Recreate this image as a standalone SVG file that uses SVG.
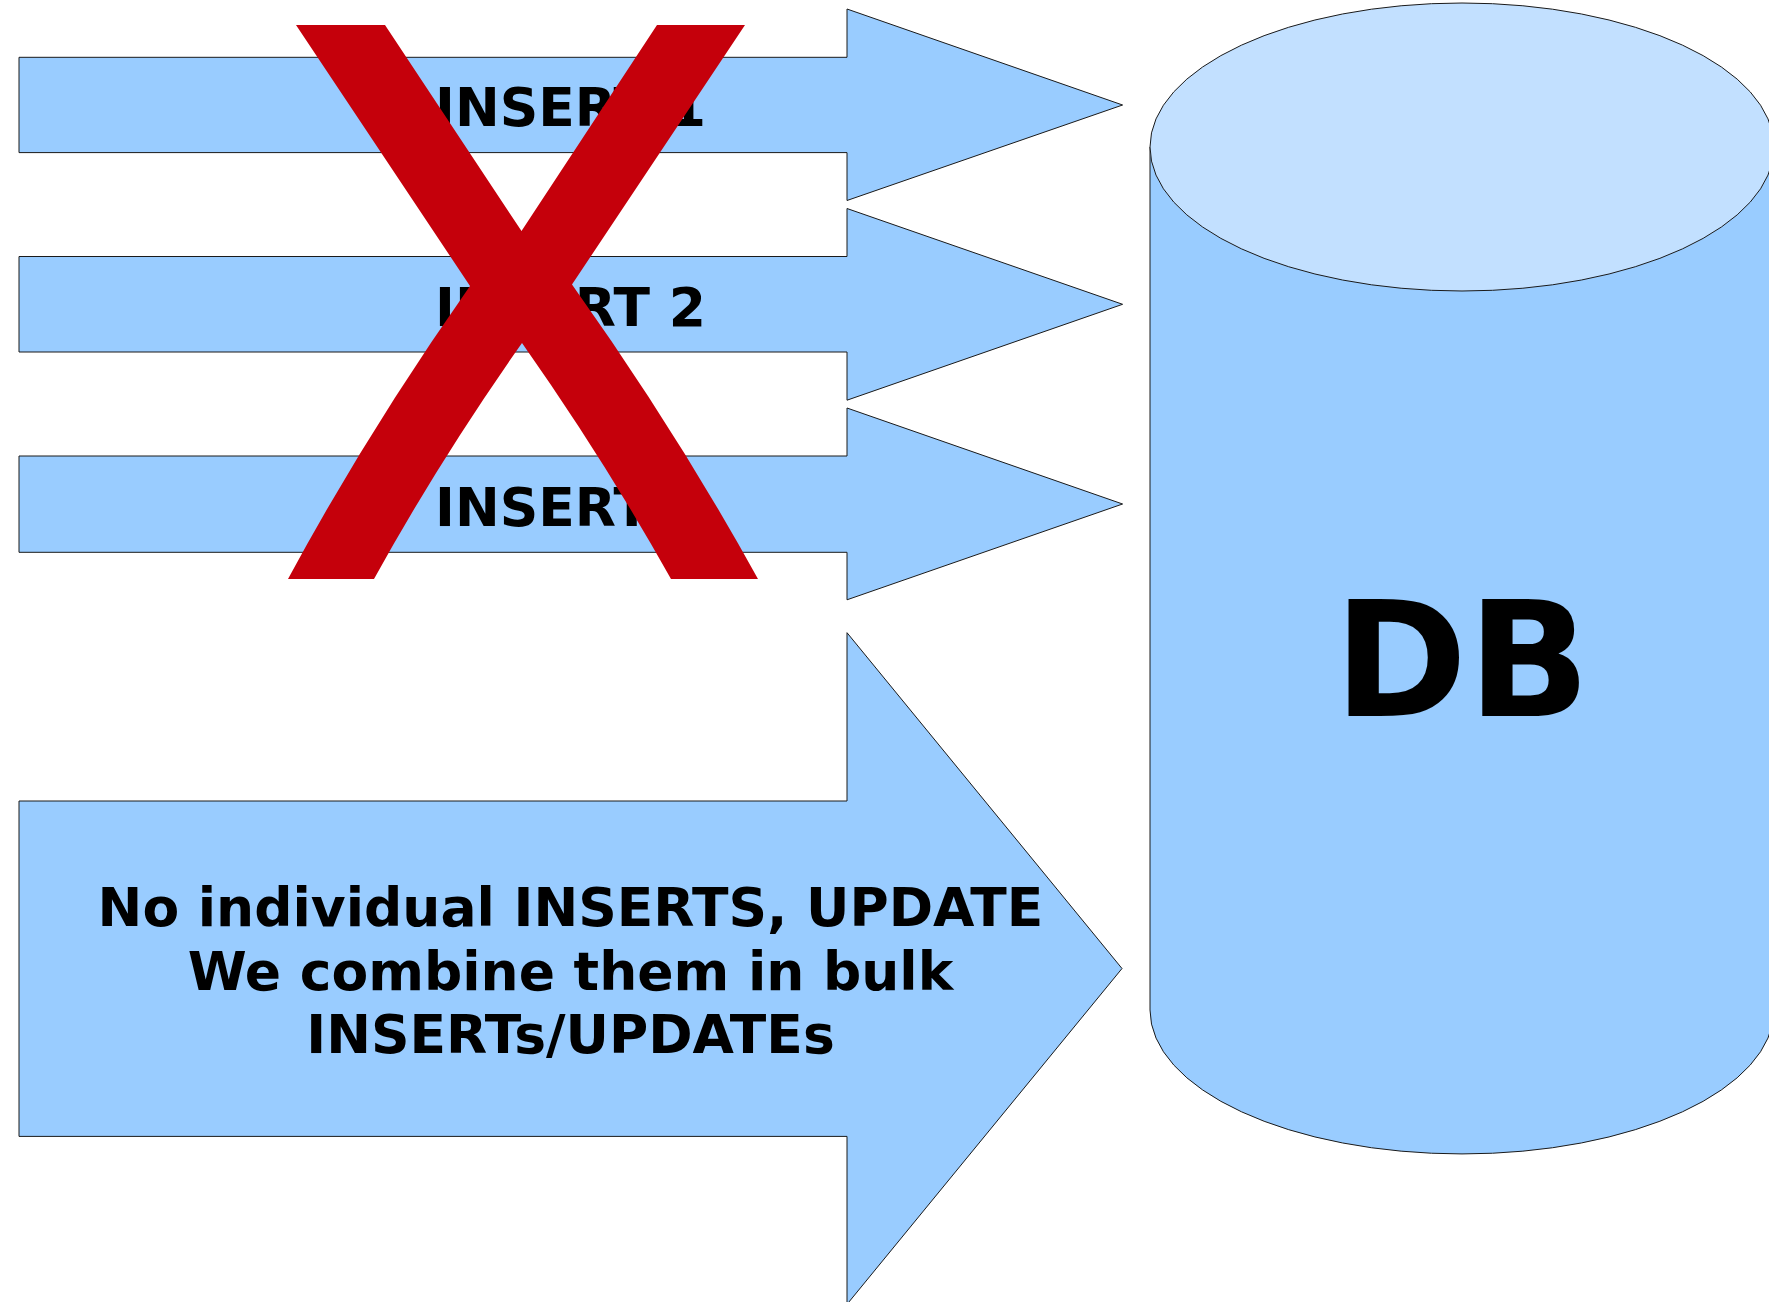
<svg xmlns="http://www.w3.org/2000/svg" width="1769" height="1302" viewBox="0 0 1769 1302">
  <style>
    .arrow { fill: #99CCFF; stroke: #1a1a1a; stroke-width: 1; stroke-linejoin: miter; }
    .label { font-family: "DejaVu Sans", "Liberation Sans", sans-serif; font-weight: bold; font-size: 53.5px; fill: #000; text-anchor: middle; }
    .db-side { fill: #99CCFF; stroke: #1a1a1a; stroke-width: 1; }
    .db-top { fill: #C2E0FF; stroke: #1a1a1a; stroke-width: 1; }
    .db-label { font-family: "DejaVu Sans", "Liberation Sans", sans-serif; font-weight: bold; font-size: 161px; fill: #000; text-anchor: middle; }
    .strike { fill: #C5000B; }
  </style>

  <!-- Database cylinder -->
  <g id="db">
    <path class="db-side" d="M1150,147 V1010 A312,144 0 0 0 1774,1010 V147 Z"/>
    <ellipse class="db-top" cx="1462" cy="147" rx="312" ry="144"/>
    <text class="db-label" x="1462" y="715.5">DB</text>
  </g>

  <!-- Individual insert arrows -->
  <g id="insert-1">
    <polygon class="arrow" points="19,57.3 847,57.3 847,9 1122.6,105 847,200.5 847,152.6 19,152.6"/>
    <text class="label" x="570.5" y="126.3">INSERT 1</text>
  </g>
  <g id="insert-2">
    <polygon class="arrow" points="19,256.5 847,256.5 847,208.5 1122.6,304.3 847,400.2 847,352 19,352"/>
    <text class="label" x="570.5" y="326">INSERT 2</text>
  </g>
  <g id="insert-3">
    <polygon class="arrow" points="19,456 847,456 847,408 1122.6,504 847,599.8 847,552.3 19,552.3"/>
    <text class="label" x="570.5" y="525.7">INSERT 3</text>
  </g>

  <!-- Bulk write arrow -->
  <g id="bulk">
    <polygon class="arrow" points="19,801 847,801 847,632.7 1122,968.5 847,1304.3 847,1136.4 19,1136.4"/>
    <text class="label" x="570.5" y="926">No individual INSERTS, UPDATE</text>
    <text class="label" x="570.5" y="989.5">We combine them in bulk</text>
    <text class="label" x="570.5" y="1053">INSERTs/UPDATEs</text>
  </g>

  <!-- Red cross-out mark over the individual inserts -->
  <g id="cross-out">
    <path class="strike" d="M296,25 H385 L521.5,231 L657,25 H745 L572,284.5 Q677,432 758,579 H671 Q605,461 522,343 Q439,461 374,579 H288 Q367,432.5 470,286 Z"/>
  </g>

  <!-- No connectors between nodes -->
  <g id="connectors"/>
</svg>
